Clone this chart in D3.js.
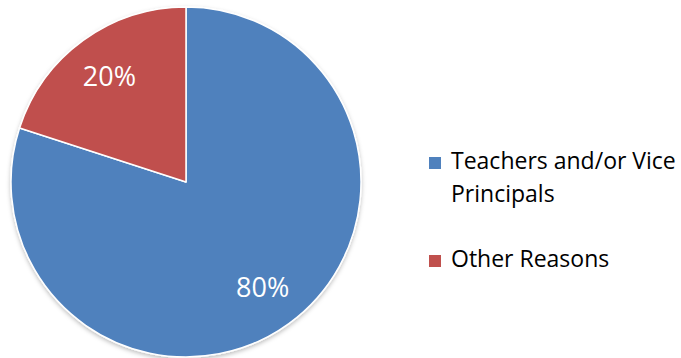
<!DOCTYPE html>
<html>
<head>
<meta charset="utf-8">
<script src="https://cdn.jsdelivr.net/npm/d3@7"></script>
<style>
  html, body { margin: 0; padding: 0; background: #fff; }
  svg { display: block; font-family: "Open Sans", "Noto Sans", sans-serif; }
</style>
</head>
<body>
<svg id="chart" width="681" height="358"></svg>
<script>
// Reasons data
const categories = ["Teachers and/or Vice Principals", "Other Reasons"];
const values = [80, 20];
const colors = ["#4F81BD", "#C0504D"];
const legendLines = [["Teachers and/or Vice", "Principals"], ["Other Reasons"]];

const svg = d3.select("#chart");
const cx = 186, cy = 182, r = 175;

const defs = svg.append("defs");
const shadow = defs.append("filter").attr("id", "shadow")
  .attr("x", "-10%").attr("y", "-10%").attr("width", "120%").attr("height", "120%");
shadow.append("feDropShadow").attr("dx", 0).attr("dy", 2).attr("stdDeviation", 2)
  .attr("flood-color", "#000").attr("flood-opacity", 0.25);

const pie = d3.pie().sort(null).value(d => d.value);
const data = pie(categories.map((c, i) => ({ name: c, value: values[i], color: colors[i] })));

const arc = d3.arc().innerRadius(0).outerRadius(r);
const labelArc = d3.arc().innerRadius(r * 0.745).outerRadius(r * 0.745);

const g = svg.append("g").attr("transform", `translate(${cx},${cy})`);

g.append("g").attr("filter", "url(#shadow)")
  .selectAll("path").data(data).join("path")
  .attr("d", arc)
  .attr("fill", d => d.data.color)
  .attr("stroke", "#fff")
  .attr("stroke-width", 1.5)
  .attr("stroke-linejoin", "round");

g.selectAll("text.pct").data(data).join("text")
  .attr("class", "pct")
  .attr("transform", d => `translate(${labelArc.centroid(d)})`)
  .attr("text-anchor", "middle")
  .attr("dy", "0.36em")
  .attr("fill", "#fff")
  .attr("font-size", 27)
  .text(d => d3.format(".0%")(d.data.value / 100));

// Legend
const legend = svg.append("g").attr("transform", "translate(429,0)");
const rowY = [169, 267];
legendLines.forEach((lines, i) => {
  const row = legend.append("g");
  row.append("rect")
    .attr("x", 0).attr("y", rowY[i] - 12)
    .attr("width", 12).attr("height", 12)
    .attr("fill", colors[i]);
  row.append("text")
    .attr("x", 22).attr("y", rowY[i])
    .attr("fill", "#000")
    .attr("font-size", 23)
    .selectAll("tspan").data(lines).join("tspan")
    .attr("x", 22)
    .attr("dy", (d, j) => j === 0 ? 0 : 33)
    .text(d => d);
});
</script>
</body>
</html>
